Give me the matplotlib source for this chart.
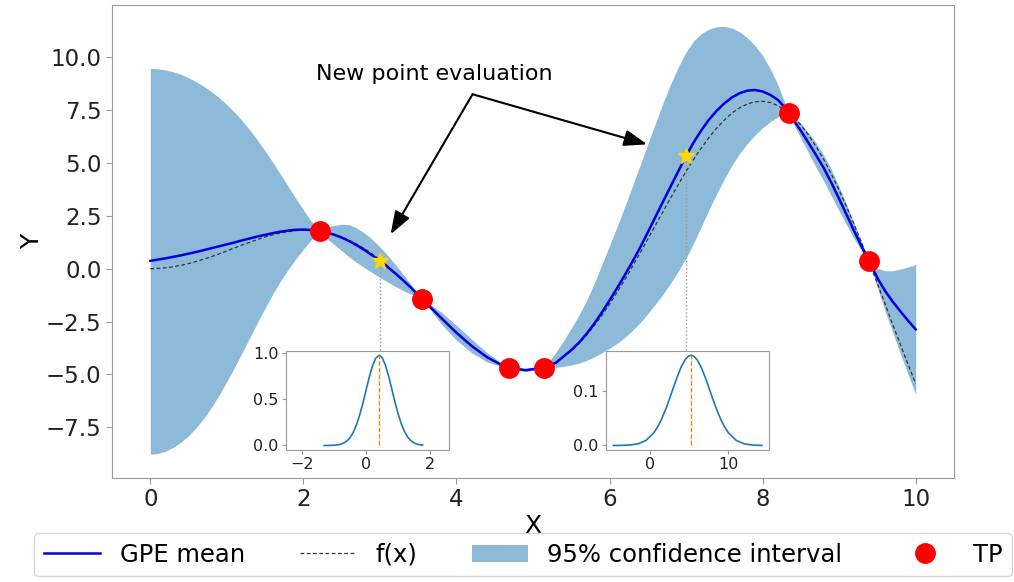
import matplotlib.pyplot as plt
import numpy as np

# GP posterior on a grid (training points included so the band pinches there)
x_grid = [0, 0.1, 0.2, 0.3, 0.4, 0.5, 0.6, 0.7, 0.8, 0.9, 1.0, 1.1, 1.2, 1.3, 1.4, 1.5, 1.6, 1.7, 1.8, 1.9, 2.0, 2.1, 2.22,
          2.3, 2.4, 2.5, 2.6, 2.7, 2.8, 2.9, 3.0, 3.1, 3.2, 3.3, 3.4, 3.55,
          3.8, 4.0, 4.2, 4.4, 4.6, 4.68, 4.9, 5.15,
          5.3, 5.4, 5.5, 5.6, 5.7, 5.8, 5.9, 6.0, 6.1, 6.2, 6.3, 6.4, 6.5, 6.6, 6.7, 6.8, 6.9,
          7.0, 7.1, 7.2, 7.3, 7.4, 7.5, 7.6, 7.7, 7.8, 7.9, 8.0, 8.1, 8.2, 8.3, 8.34,
          8.4, 8.5, 8.6, 8.7, 8.8, 8.9, 9.0, 9.1, 9.2, 9.3, 9.39,
          9.45, 9.5, 9.6, 9.7, 9.8, 9.9, 10.0]
gpe_mean = [0.37, 0.43, 0.49, 0.56, 0.63, 0.71, 0.79, 0.88, 0.97, 1.06, 1.15, 1.24, 1.34, 1.43, 1.52, 1.60, 1.68, 1.75, 1.80, 1.84, 1.85, 1.83, 1.77,
            1.71, 1.61, 1.47, 1.30, 1.10, 0.88, 0.63, 0.36, 0.08, -0.22, -0.54, -0.88, -1.43,
            -2.33, -3.03, -3.66, -4.19, -4.57, -4.68, -4.80, -4.68,
            -4.45, -4.15, -3.85, -3.50, -3.08, -2.60, -2.07, -1.50, -0.91, -0.30, 0.34, 1.00, 1.72, 2.45, 3.18, 3.90, 4.62,
            5.33, 5.98, 6.55, 7.05, 7.47, 7.82, 8.10, 8.30, 8.42, 8.45, 8.38, 8.22, 7.98, 7.58, 7.38,
            7.05, 6.52, 5.95, 5.36, 4.75, 4.05, 3.30, 2.53, 1.75, 1.00, 0.36,
            -0.08, -0.45, -1.05, -1.56, -2.02, -2.46, -2.87]
f_true = [0.00, 0.01, 0.04, 0.09, 0.16, 0.24, 0.34, 0.45, 0.57, 0.70, 0.84, 0.98, 1.12, 1.25, 1.38, 1.50, 1.60, 1.69, 1.75, 1.80, 1.82, 1.81, 1.77,
          1.72, 1.62, 1.50, 1.34, 1.15, 0.94, 0.69, 0.42, 0.13, -0.19, -0.52, -0.87, -1.41,
          -2.33, -3.03, -3.66, -4.19, -4.57, -4.68, -4.81, -4.66,
          -4.41, -4.17, -3.88, -3.54, -3.14, -2.69, -2.21, -1.68, -1.11, -0.52, 0.11, 0.75, 1.40, 2.06, 2.71, 3.36, 3.99,
          4.60, 5.18, 5.71, 6.21, 6.65, 7.03, 7.36, 7.61, 7.79, 7.89, 7.92, 7.86, 7.71, 7.49, 7.37,
          7.18, 6.79, 6.32, 5.77, 5.15, 4.46, 3.71, 2.90, 2.05, 1.16, 0.33,
          -0.24, -0.71, -1.67, -2.64, -3.59, -4.53, -5.44]
ci_upper = [9.47, 9.45, 9.40, 9.31, 9.19, 9.03, 8.84, 8.62, 8.37, 8.08, 7.76, 7.40, 7.00, 6.56, 6.08, 5.57, 5.03, 4.47, 3.90, 3.33, 2.78, 2.25, 1.77,
            1.95, 2.05, 2.10, 2.08, 1.92, 1.68, 1.38, 1.03, 0.63, 0.20, -0.25, -0.72, -1.43,
            -2.05, -2.68, -3.34, -3.97, -4.50, -4.68, -4.72, -4.68,
            -3.95, -3.40, -2.82, -2.20, -1.50, -0.70, 0.20, 1.10, 2.00, 2.95, 3.92, 4.90, 5.90, 6.88, 7.85, 8.75, 9.55,
            10.25, 10.78, 11.12, 11.33, 11.44, 11.46, 11.38, 11.20, 10.92, 10.55, 10.08, 9.45, 8.70, 7.75, 7.38,
            7.23, 6.87, 6.43, 5.94, 5.37, 4.67, 3.87, 3.01, 2.11, 1.20, 0.36,
            0.14, 0.02, -0.10, -0.10, -0.02, 0.08, 0.20]
ci_lower = [-8.78, -8.74, -8.63, -8.45, -8.21, -7.90, -7.52, -7.07, -6.55, -5.97, -5.34, -4.67, -3.97, -3.26, -2.55, -1.86, -1.20, -0.59, -0.04, 0.46, 0.92, 1.35, 1.77,
            1.45, 1.15, 0.85, 0.55, 0.28, 0.04, -0.19, -0.42, -0.63, -0.84, -1.03, -1.20, -1.43,
            -2.61, -3.38, -3.98, -4.41, -4.64, -4.68, -4.88, -4.68,
            -4.66, -4.62, -4.56, -4.47, -4.34, -4.17, -3.98, -3.77, -3.53, -3.25, -2.92, -2.55, -2.13, -1.67, -1.20, -0.68, -0.10,
            0.50, 1.22, 2.00, 2.80, 3.55, 4.25, 4.90, 5.45, 5.92, 6.32, 6.66, 6.95, 7.18, 7.34, 7.38,
            6.87, 6.17, 5.47, 4.78, 4.13, 3.43, 2.73, 2.05, 1.39, 0.80, 0.36,
            -0.30, -0.92, -2.00, -3.02, -4.02, -5.00, -5.94]

tp_x = [2.22, 3.55, 4.68, 5.15, 8.34, 9.39]
tp_y = [1.77, -1.43, -4.68, -4.68, 7.38, 0.36]

new_x = [3.0, 7.0]
new_y = [0.36, 5.33]

# predictive densities at the two new points
pdf1_x = [-1.3, -1.2, -1.1, -1.0, -0.9, -0.8, -0.7, -0.6, -0.5, -0.4, -0.3, -0.2, -0.1, 0.0, 0.1, 0.2, 0.3, 0.41,
          0.5, 0.6, 0.7, 0.8, 0.9, 1.0, 1.1, 1.2, 1.3, 1.4, 1.5, 1.6, 1.7, 1.77]
pdf1_y = [0.0002, 0.0004, 0.0011, 0.0026, 0.0059, 0.0125, 0.025, 0.047, 0.083, 0.139, 0.218, 0.322, 0.450, 0.591,
          0.733, 0.855, 0.940, 0.975, 0.952, 0.876, 0.759, 0.620, 0.477, 0.346, 0.237, 0.152, 0.092, 0.053, 0.028,
          0.0144, 0.0069, 0.004]
pdf1_mu, pdf1_peak = 0.41, 0.975

pdf2_x = [-4.68, -3.5, -2.5, -1.5, -0.5, 0.5, 1.0, 1.5, 2.0, 2.5, 3.0, 3.5, 4.0, 4.5, 4.9, 5.24, 5.6, 6.0, 6.5,
          7.0, 7.5, 8.0, 8.5, 9.0, 9.5, 10.0, 11.0, 12.0, 13.0, 14.26]
pdf2_y = [0.00003, 0.0002, 0.0009, 0.0032, 0.0095, 0.0236, 0.0349, 0.0493, 0.0667, 0.0865, 0.1074, 0.1276, 0.1453,
          0.1583, 0.1643, 0.166, 0.1641, 0.1579, 0.1446, 0.1269, 0.1066, 0.0857, 0.0660, 0.0487, 0.0343, 0.0232,
          0.0093, 0.0031, 0.0009, 0.0001]
pdf2_mu, pdf2_peak = 5.24, 0.166

frame = '#999999'

fig = plt.figure(figsize=(10.14, 5.82), dpi=100)
ax = fig.add_axes([0.1105, 0.1787, 0.8303, 0.8127])

band = ax.fill_between(x_grid, ci_lower, ci_upper, color='C0', alpha=0.5, lw=0)
f_line, = ax.plot(x_grid, f_true, color='#333333', ls=(0, (3, 2)), lw=0.9)
mean_line, = ax.plot(x_grid, gpe_mean, color='#0000dd', lw=1.8)
tp_pts, = ax.plot(tp_x, tp_y, 'o', color='red', ms=14, zorder=5, ls='none')
ax.plot(new_x, new_y, '*', color='gold', ms=12, zorder=6, ls='none')
ax.vlines(new_x, -3.85, new_y, colors='#999999', linestyles=':', lw=1, zorder=1)

ax.text(3.71, 9.2, 'New point evaluation', ha='center', va='center', fontsize=16)
for tip in [(3.14, 1.63), (6.49, 5.88)]:
    ax.annotate('', xy=tip, xytext=(4.21, 8.25),
                arrowprops=dict(arrowstyle='-|>,head_length=0.7,head_width=0.25', color='black',
                                lw=1.5, mutation_scale=20, shrinkA=0, shrinkB=0))

ax.set_xlim(-0.5, 10.5)
ax.set_ylim(-9.9, 12.47)
ax.set_xticks([0, 2, 4, 6, 8, 10])
ax.set_yticks([-7.5, -5.0, -2.5, 0.0, 2.5, 5.0, 7.5, 10.0])
ax.tick_params(labelsize=16.5, color=frame, length=4, labelcolor='#222222')
ax.set_xlabel('X', fontsize=18, labelpad=2)
ax.set_ylabel('Y', fontsize=18, labelpad=1)
for s in ax.spines.values():
    s.set_color(frame)

# inset at x = 3
ins1 = fig.add_axes([0.2818, 0.2268, 0.1613, 0.1706])
ins1.plot(pdf1_x, pdf1_y, color='#1f77b4', lw=1.2)
ins1.vlines(pdf1_mu, 0, pdf1_peak, colors='#ff7f0e', linestyles='--', lw=0.9)
ins1.set_xlim(-2.5, 2.6)
ins1.set_xticks([-2, 0, 2])
ins1.set_yticks([0.0, 0.5, 1.0])

# inset at x = 7
ins2 = fig.add_axes([0.5973, 0.2268, 0.1613, 0.1706])
ins2.plot(pdf2_x, pdf2_y, color='#1f77b4', lw=1.2)
ins2.vlines(pdf2_mu, 0, pdf2_peak, colors='#ff7f0e', linestyles='--', lw=0.9)
ins2.set_xlim(-5.66, 15.2)
ins2.set_xticks([0, 10])
ins2.set_yticks([0.0, 0.1])

for a in (ins1, ins2):
    a.tick_params(labelsize=11.5, color=frame, length=3, labelcolor='#222222', pad=2)
    for s in a.spines.values():
        s.set_color(frame)

fig.legend([mean_line, f_line, band, tp_pts],
           ['GPE mean', 'f(x)', '95% confidence interval', 'TP'],
           loc='upper left', bbox_to_anchor=(0.034, 0.0, 0.964, 0.0842), mode='expand',
           ncol=4, fontsize=17.5, handlelength=2.3, numpoints=1, borderaxespad=0)

fig.savefig('out.png', dpi=100)
